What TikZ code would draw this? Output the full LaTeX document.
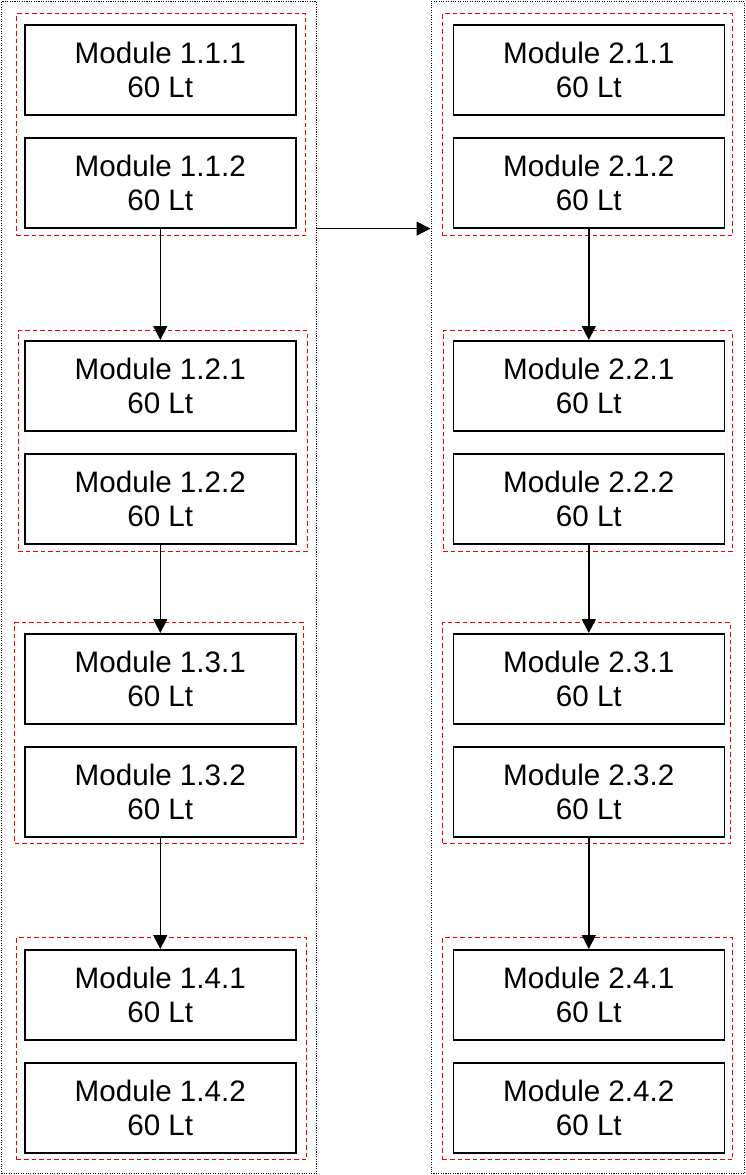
\documentclass[tikz,border=0pt]{standalone}
\usepackage{fontspec}
\setmainfont{Liberation Sans}
\usetikzlibrary{arrows.meta}
\tikzset{
  x=1pt, y=-1pt,
  outerbox/.style={draw=black, line width=1.1pt, dash pattern=on 1.1pt off 1.3pt, rectangle, inner sep=0pt, anchor=north west},
  groupbox/.style={draw=red!95!black, line width=1.2pt, dash pattern=on 4.5pt off 3pt, rectangle, inner sep=0pt, anchor=north west},
  modbox/.style={draw=black, line width=1.6pt, rectangle, inner sep=0pt, anchor=north west,
    minimum width=271pt, minimum height=90pt, align=center,
    font=\fontsize{29.6}{33.5}\selectfont},
  conn/.style={draw=black, line width=1.4pt, -{Triangle[length=14pt,width=14pt]}},
}
\begin{document}
\begin{tikzpicture}
\useasboundingbox (0,0) rectangle (745,1175);
% outer dotted containers
\node[outerbox, minimum width=315pt, minimum height=1172pt] (L) at (1,1) {};
\node[outerbox, minimum width=313.5pt, minimum height=1172pt] (R) at (430.5,1) {};
% red dashed groups, left column
\node[groupbox, minimum width=289pt, minimum height=222pt] (gL1) at (16,13) {};
\node[groupbox, minimum width=289pt, minimum height=221pt] (gL2) at (17.5,330) {};
\node[groupbox, minimum width=289pt, minimum height=221pt] (gL3) at (14,622) {};
\node[groupbox, minimum width=290pt, minimum height=222pt] (gL4) at (16,937) {};
% red dashed groups, right column
\node[groupbox, minimum width=290pt, minimum height=222pt] (gR1) at (442,13) {};
\node[groupbox, minimum width=289pt, minimum height=221pt] (gR2) at (442.5,330) {};
\node[groupbox, minimum width=288pt, minimum height=221pt] (gR3) at (442,622) {};
\node[groupbox, minimum width=290pt, minimum height=222pt] (gR4) at (442,937) {};
% modules, left column
\node[modbox] (m111) at (24,24) {Module 1.1.1\\60 Lt};
\node[modbox] (m112) at (24,137) {Module 1.1.2\\60 Lt};
\node[modbox] (m121) at (24,340) {Module 1.2.1\\60 Lt};
\node[modbox] (m122) at (24,453) {Module 1.2.2\\60 Lt};
\node[modbox] (m131) at (24,633) {Module 1.3.1\\60 Lt};
\node[modbox] (m132) at (24,746) {Module 1.3.2\\60 Lt};
\node[modbox] (m141) at (24,949) {Module 1.4.1\\60 Lt};
\node[modbox] (m142) at (24,1062) {Module 1.4.2\\60 Lt};
% modules, right column
\node[modbox] (m211) at (452.5,24) {Module 2.1.1\\60 Lt};
\node[modbox] (m212) at (452.5,137) {Module 2.1.2\\60 Lt};
\node[modbox] (m221) at (452.5,340) {Module 2.2.1\\60 Lt};
\node[modbox] (m222) at (452.5,453) {Module 2.2.2\\60 Lt};
\node[modbox] (m231) at (452.5,633) {Module 2.3.1\\60 Lt};
\node[modbox] (m232) at (452.5,746) {Module 2.3.2\\60 Lt};
\node[modbox] (m241) at (452.5,949) {Module 2.4.1\\60 Lt};
\node[modbox] (m242) at (452.5,1062) {Module 2.4.2\\60 Lt};
% connectors
\draw[conn] (m112.south) -- (m121.north);
\draw[conn] (m122.south) -- (m131.north);
\draw[conn] (m132.south) -- (m141.north);
\draw[conn] (m212.south) -- (m221.north);
\draw[conn] (m222.south) -- (m231.north);
\draw[conn] (m232.south) -- (m241.north);
\coordinate (aS) at (L.east |- m112.south);
\coordinate (aE) at (R.west |- m112.south);
\draw[conn] (aS) -- (aE);
\end{tikzpicture}
\end{document}
